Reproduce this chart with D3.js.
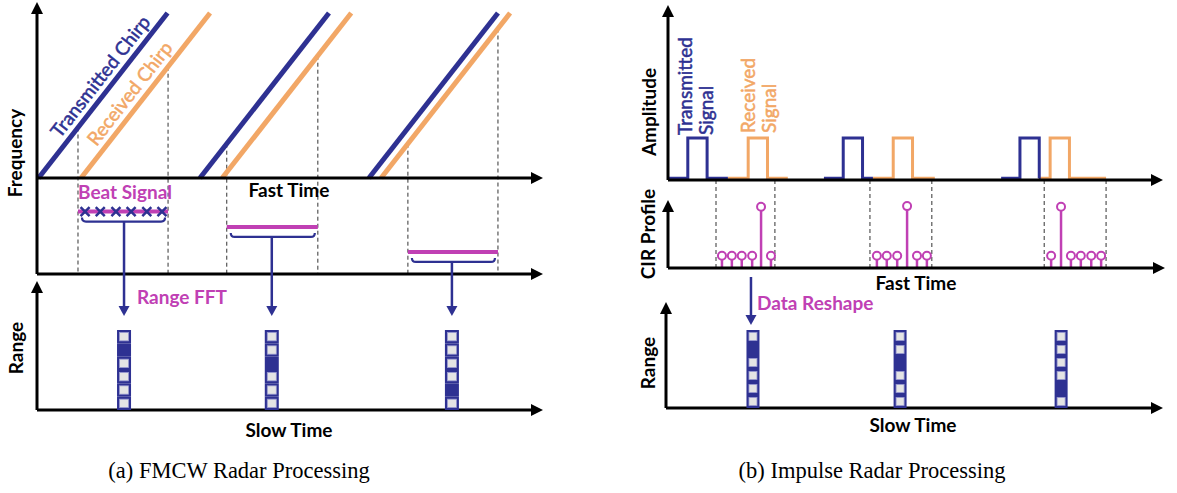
<!DOCTYPE html>
<html>
<head>
<meta charset="utf-8">
<script src="https://cdn.jsdelivr.net/npm/d3@7"></script>
<style>
    body { margin: 0; background: #fff; }
</style>
</head>
<body>
<div class="figure"></div>
<script>
// (a) FMCW -- fast time and slow time run 0..100 along each axis
var chirpTxStart = [0.3, 32.2, 65.6];
var chirpRxStart = [8.7, 36.6, 68.0];
var chirpDuration = 25.5;
var chirpTop = 10;
var beatStart = [8.1, 37.5, 73.3];
var beatEnd = [25.9, 55.5, 91.1];
var beatStartChirp = ["tx", "tx", "rx"];
var beatFreq = [6.5, 4.9, 2.3];
var beatSamples = [9.5, 12.5, 15.6, 18.6, 21.7, 24.7];
var fmcwSlowTime = [17.2, 46.4, 82.0];
var fmcwPeakBin = [4, 3, 1];

// (b) Impulse
var pulseTraceStart = [0, 31.5, 67.3];
var pulseTxRise = [4.0, 35.4, 71.1];
var pulseHandover = [12.1, 41.4, 74.9];
var pulseRxRise = [16.2, 45.5, 77.2];
var pulseTraceEnd = [24.2, 53.9, 88.5];
var pulseWidth = 3.9;
var pulseFloor = 0.1;
var pulseAmp = 2.4;
var cirStart = [9.7, 40.8, 76.0];
var cirEnd = [21.6, 53.3, 88.5];
var cirTimes = [
    [10.9, 12.9, 14.9, 17.0, 18.8, 20.8],
    [42.2, 44.2, 46.3, 48.3, 50.3, 52.3],
    [77.4, 79.4, 81.4, 83.4, 85.5, 87.5]
];
var cirValues = [
    [1.8, 1.8, 1.8, 1.8, 9.0, 1.8],
    [1.8, 1.8, 1.8, 9.1, 1.8, 1.8],
    [1.8, 9.0, 1.8, 1.8, 1.8, 1.8]
];
var impulseSlowTime = [17.5, 47.1, 79.5];
var impulsePeakBin = [4, 3, 1];

var rangeBins = [0, 1, 2, 3, 4, 5];

var blue = "#2e3192", orange = "#f2a766", magenta = "#c040b4", cellGray = "#e4e4e4";

var xFastA = d3.scaleLinear().domain([0, 100]).range([37, 543]);
var yFreq = d3.scaleLinear().domain([0, 10]).range([178, 13]);
var yBeat = d3.scaleLinear().domain([0, 10]).range([274, 178]);
var xSlowA = d3.scaleLinear().domain([0, 100]).range([37, 543]);
var yRangeA = d3.scaleBand().domain(rangeBins).range([410, 330]);

var xFastB = d3.scaleLinear().domain([0, 100]).range([668, 1163]);
var yAmp = d3.scaleLinear().domain([0, 10]).range([180, 5]);
var yCir = d3.scaleLinear().domain([0, 10]).range([268, 200]);
var xSlowB = d3.scaleLinear().domain([0, 100]).range([666, 1163]);
var yRangeB = d3.scaleBand().domain(rangeBins).range([408, 330]);

var Figure = {
    svg: null,
    width: 1177,
    height: 493,
    font: "Lato, 'Open Sans', sans-serif",
    init: function () {
        this.svg = d3.select(".figure")
                     .append("svg")
                     .attr("width", this.width)
                     .attr("height", this.height);

        this.drawFmcw();
        this.drawImpulse();
        this.addCaptions();
    },
    // line with a filled triangular head at (x2, y2)
    arrow: function (x1, y1, x2, y2, color, width, len, half) {
        var dx = x2 - x1, dy = y2 - y1, d = Math.sqrt(dx * dx + dy * dy);
        var ux = dx / d, uy = dy / d;
        var bx = x2 - ux * len, by = y2 - uy * len;

        this.svg.append("line")
            .attr("x1", x1).attr("y1", y1)
            .attr("x2", bx).attr("y2", by)
            .attr("stroke", color)
            .attr("stroke-width", width);

        this.svg.append("path")
            .attr("d", "M" + x2 + "," + y2 +
                       "L" + (bx - uy * half) + "," + (by + ux * half) +
                       "L" + (bx + uy * half) + "," + (by - ux * half) + "Z")
            .attr("fill", color);
    },
    axisArrow: function (x1, y1, x2, y2) {
        this.arrow(x1, y1, x2, y2, "#000", 3, 12, 6);
    },
    label: function (text, x, y, opts) {
        opts = opts || {};
        var t = this.svg.append("text")
            .attr("transform", "translate(" + x + "," + y + ")" + (opts.rotate ? " rotate(" + opts.rotate + ")" : ""))
            .attr("font-family", opts.family || this.font)
            .attr("font-size", opts.size || 19)
            .attr("font-weight", opts.weight || "bold")
            .attr("fill", opts.color || "#000")
            .attr("text-anchor", opts.anchor || "middle")
            .text(text);

        // Lato regular reads thinner than the original face
        if (opts.weight === "normal" && !opts.family) {
            t.attr("stroke", opts.color || "#000").attr("stroke-width", 0.5);
        }

        return t;
    },
    dashed: function (x, y1, y2) {
        this.svg.append("line")
            .attr("x1", x).attr("x2", x)
            .attr("y1", y1).attr("y2", y2)
            .attr("stroke", "#333")
            .attr("stroke-width", 1)
            .attr("stroke-dasharray", "4,3");
    },
    rangeColumns: function (times, peaks, xScale, yScale, colWidth) {
        var svg = this.svg;

        times.forEach(function (t, c) {
            var g = svg.append("g");
            var x = xScale(t) - colWidth / 2;

            g.selectAll("rect.cell")
                .data(rangeBins)
                .enter()
                .append("rect")
                .attr("class", "cell")
                .attr("x", x)
                .attr("y", function (d) { return yScale(d); })
                .attr("width", colWidth)
                .attr("height", yScale.bandwidth())
                .attr("fill", blue);

            g.selectAll("rect.inner")
                .data(rangeBins.filter(function (d) { return d !== peaks[c]; }))
                .enter()
                .append("rect")
                .attr("class", "inner")
                .attr("x", x + 2.5)
                .attr("y", function (d) { return yScale(d) + 2.5; })
                .attr("width", colWidth - 5)
                .attr("height", yScale.bandwidth() - 5)
                .attr("fill", cellGray)
                .attr("stroke", "#9a9bd2")
                .attr("stroke-width", 0.8);
        });
    },
    chirpFreq: function (t, start) {
        return chirpTop * (t - start) / chirpDuration;
    },
    drawFmcw: function () {
        var svg = this.svg;
        var x0 = xFastA.range()[0], x1 = xFastA.range()[1];

        // dashed beat windows, dropped from the chirps to the beat axis
        beatStart.forEach(function (s, i) {
            var start = beatStartChirp[i] === "tx" ? chirpTxStart[i] : chirpRxStart[i];
            Figure.dashed(xFastA(s), yFreq(Figure.chirpFreq(s, start)), yBeat(0));
        });
        beatEnd.forEach(function (e, i) {
            Figure.dashed(xFastA(e), yFreq(Figure.chirpFreq(e, chirpRxStart[i])), yBeat(0));
        });

        // chirps
        var chirpLine = d3.line()
                          .x(function (d) { return xFastA(d[0]); })
                          .y(function (d) { return yFreq(d[1]); });

        chirpTxStart.forEach(function (s) {
            svg.append("path")
                .attr("d", chirpLine([[s, 0], [s + chirpDuration, chirpTop]]))
                .attr("stroke", blue)
                .attr("stroke-width", 5)
                .attr("fill", "none");
        });
        chirpRxStart.forEach(function (s) {
            svg.append("path")
                .attr("d", chirpLine([[s, 0], [s + chirpDuration, chirpTop]]))
                .attr("stroke", orange)
                .attr("stroke-width", 5)
                .attr("fill", "none");
        });

        // chirp labels run along the first pair
        var angle = Math.atan2(yFreq(chirpTop) - yFreq(0), xFastA(chirpDuration) - xFastA(0)) * 180 / Math.PI;
        svg.append("text")
            .attr("transform", "translate(" + xFastA(chirpTxStart[0]) + "," + yFreq(0) + ") rotate(" + angle + ")")
            .attr("x", 44).attr("y", -7)
            .attr("font-family", this.font)
            .attr("font-size", 19)
            .attr("fill", blue)
            .attr("stroke", blue)
            .attr("stroke-width", 0.5)
            .text("Transmitted Chirp");
        svg.append("text")
            .attr("transform", "translate(" + xFastA(chirpRxStart[0]) + "," + yFreq(0) + ") rotate(" + angle + ")")
            .attr("x", 34).attr("y", -7)
            .attr("font-family", this.font)
            .attr("font-size", 19)
            .attr("fill", orange)
            .attr("stroke", orange)
            .attr("stroke-width", 0.5)
            .text("Received Chirp");

        // axes
        this.axisArrow(x0, yBeat(0), x0, 2);
        this.axisArrow(x0, yFreq(0), x1, yFreq(0));
        this.axisArrow(x0, yBeat(0), x1, yBeat(0));

        // beat signals
        svg.selectAll("line.beat")
            .data(beatFreq)
            .enter()
            .append("line")
            .attr("class", "beat")
            .attr("x1", function (d, i) { return xFastA(beatStart[i]); })
            .attr("x2", function (d, i) { return xFastA(beatEnd[i]); })
            .attr("y1", function (d) { return yBeat(d); })
            .attr("y2", function (d) { return yBeat(d); })
            .attr("stroke", magenta)
            .attr("stroke-width", 4);

        svg.selectAll("path.sample")
            .data(beatSamples)
            .enter()
            .append("path")
            .attr("class", "sample")
            .attr("d", function (d) {
                var cx = xFastA(d), cy = yBeat(beatFreq[0]), r = 4.5;
                return "M" + (cx - r) + "," + (cy - r) + "L" + (cx + r) + "," + (cy + r) +
                       "M" + (cx - r) + "," + (cy + r) + "L" + (cx + r) + "," + (cy - r);
            })
            .attr("stroke", blue)
            .attr("stroke-width", 2.5);

        // brackets and range FFT arrows
        beatFreq.forEach(function (f, i) {
            var xa = xFastA(beatStart[i]) + 4, xb = xFastA(beatEnd[i]) - 3, yb = yBeat(f) + 10;
            svg.append("path")
                .attr("d", "M" + xa + "," + (yb - 4) + "Q" + xa + "," + yb + " " + (xa + 4) + "," + yb +
                           "L" + (xb - 4) + "," + yb + "Q" + xb + "," + yb + " " + xb + "," + (yb - 4))
                .attr("stroke", blue)
                .attr("stroke-width", 2.2)
                .attr("fill", "none");
            Figure.arrow(xSlowA(fmcwSlowTime[i]), yb, xSlowA(fmcwSlowTime[i]), 316, blue, 2.5, 10, 5.5);
        });

        // range-slow time panel
        this.axisArrow(x0, yRangeA.range()[0], x0, 281);
        this.axisArrow(x0, yRangeA.range()[0], x1, yRangeA.range()[0]);
        this.rangeColumns(fmcwSlowTime, fmcwPeakBin, xSlowA, yRangeA, 14);

        // labels
        this.label("Frequency", 22, 153, { rotate: -90 });
        this.label("Fast Time", 289, 197);
        this.label("Beat Signal", 78, 199, { color: magenta, anchor: "start" });
        this.label("Range FFT", 137, 304, { color: magenta, anchor: "start" });
        this.label("Range", 23, 348, { rotate: -90 });
        this.label("Slow Time", 289, 437);
    },
    drawImpulse: function () {
        var svg = this.svg;
        var x0 = xFastB.range()[0], x1 = xFastB.range()[1];

        // dashed windows from amplitude axis to CIR axis
        cirStart.concat(cirEnd).forEach(function (t) {
            Figure.dashed(xFastB(t), yAmp(0), yCir(0));
        });

        // pulses
        var trace = d3.line()
                      .x(function (d) { return xFastB(d[0]); })
                      .y(function (d) { return yAmp(d[1]); });

        pulseTxRise.forEach(function (r, i) {
            var tx = [[pulseTraceStart[i], pulseFloor], [r, pulseFloor], [r, pulseAmp],
                      [r + pulseWidth, pulseAmp], [r + pulseWidth, pulseFloor], [pulseHandover[i], pulseFloor]];
            var rr = pulseRxRise[i];
            var rx = [[pulseHandover[i], pulseFloor], [rr, pulseFloor], [rr, pulseAmp],
                      [rr + pulseWidth, pulseAmp], [rr + pulseWidth, pulseFloor], [pulseTraceEnd[i], pulseFloor]];

            svg.append("path").attr("d", trace(rx))
                .attr("stroke", orange).attr("stroke-width", 3).attr("fill", "none");
            svg.append("path").attr("d", trace(tx))
                .attr("stroke", blue).attr("stroke-width", 3).attr("fill", "none");
        });

        this.axisArrow(x0, yAmp(0), x0, 5);
        this.axisArrow(x0, yAmp(0), x1, yAmp(0));

        // CIR stems
        cirTimes.forEach(function (times, g) {
            var pts = times.map(function (t, k) { return [t, cirValues[g][k]]; });

            svg.selectAll("line.stem" + g)
                .data(pts)
                .enter()
                .append("line")
                .attr("x1", function (d) { return xFastB(d[0]); })
                .attr("x2", function (d) { return xFastB(d[0]); })
                .attr("y1", yCir(0))
                .attr("y2", function (d) { return yCir(d[1]) + 4; })
                .attr("stroke", magenta)
                .attr("stroke-width", 2.5);

            svg.selectAll("circle.stem" + g)
                .data(pts)
                .enter()
                .append("circle")
                .attr("cx", function (d) { return xFastB(d[0]); })
                .attr("cy", function (d) { return yCir(d[1]); })
                .attr("r", 4)
                .attr("fill", "#fff")
                .attr("stroke", magenta)
                .attr("stroke-width", 2);
        });

        this.axisArrow(x0, yCir(0), x0, 200);
        this.axisArrow(x0, yCir(0), x1 + 2, yCir(0));

        // data reshape arrow
        this.arrow(xSlowB(impulseSlowTime[0]) - 2, 277, xSlowB(impulseSlowTime[0]) - 2, 325, blue, 2.5, 10, 5.5);

        // range-slow time panel
        var bx0 = xSlowB.range()[0];
        this.axisArrow(bx0, yRangeB.range()[0], bx0, 302);
        this.axisArrow(bx0, yRangeB.range()[0], xSlowB.range()[1], yRangeB.range()[0]);
        this.rangeColumns(impulseSlowTime, impulsePeakBin, xSlowB, yRangeB, 13);

        // labels
        this.label("Transmitted", 692, 135, { rotate: -90, anchor: "start", weight: "normal", color: blue });
        this.label("Signal", 713, 135, { rotate: -90, anchor: "start", weight: "normal", color: blue });
        this.label("Received", 755, 133, { rotate: -90, anchor: "start", weight: "normal", color: orange });
        this.label("Signal", 776, 133, { rotate: -90, anchor: "start", weight: "normal", color: orange });
        this.label("Amplitude", 656, 112, { rotate: -90 });
        this.label("CIR Profile", 655, 234, { rotate: -90 });
        this.label("Fast Time", 916, 290);
        this.label("Data Reshape", 757, 310, { color: magenta, anchor: "start" });
        this.label("Range", 655, 363, { rotate: -90 });
        this.label("Slow Time", 913, 432);
    },
    addCaptions: function () {
        var opts = { family: "'Liberation Serif', 'Times New Roman', serif", weight: "normal", size: 22.5 };
        this.label("(a) FMCW Radar Processing", 239, 478, opts);
        this.label("(b) Impulse Radar Processing", 872, 478, opts);
    }
};

Figure.init();
</script>
</body>
</html>
